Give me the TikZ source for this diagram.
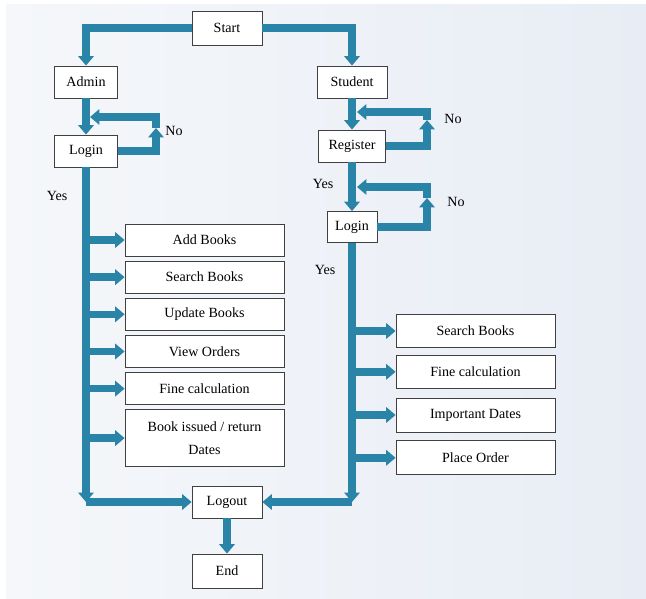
\documentclass[tikz,border=0pt]{standalone}
\usepackage{fontspec}
\setmainfont{Liberation Serif}
\usepackage{tikz}
\usetikzlibrary{arrows.meta,positioning}
\definecolor{flowblue}{RGB}{42,132,168}
\definecolor{bgleft}{RGB}{245,247,250}
\definecolor{bgright}{RGB}{232,237,245}
\tikzset{
    mybox/.style={rectangle, draw=black!75, fill=white, line width=0.7pt, minimum height=0.96cm, inner sep=2pt, font=\fontsize{12}{13}\selectfont, align=center},
    myarrow/.style={-{Triangle[width=13pt,length=8pt]}, draw=flowblue, line width=6.5pt},
    mylabel/.style={font=\fontsize{12}{13}\selectfont}
}

\begin{document}
\begin{tikzpicture}[x=0.03cm, y=-0.03cm, node distance=0.13cm]
\useasboundingbox (0,0) rectangle (646,599);
\fill[white] (0,0) rectangle (646,599);
\shade[left color=bgleft, right color=bgright] (6,5) rectangle (646,599);

\node[mybox, minimum width=2.1cm, minimum height=1.02cm] (start) at (227,28) {Start};
\node[mybox, minimum width=1.9cm] (admin) at (86,82) {Admin};
\node[mybox, minimum width=2.1cm] (student) at (352,82) {Student};
\node[mybox, minimum width=1.9cm] (login1) at (86,151) {Login};
\node[mybox, minimum width=2.0cm] (register) at (352,146) {Register};
\node[mybox, minimum width=1.5cm, minimum height=0.93cm] (login2) at (352,227) {Login};

% admin side
\node[mybox, minimum width=4.77cm] (addbooks) at (204.5,240) {Add Books};
\node[mybox, minimum width=4.77cm, below=of addbooks] (searchbooks) {Search Books};
\node[mybox, minimum width=4.77cm, below=of searchbooks] (updatebooks) {Update Books};
\node[mybox, minimum width=4.77cm, below=of updatebooks] (vieworders) {View Orders};
\node[mybox, minimum width=4.77cm, below=of vieworders] (finecalc) {Fine calculation};
\node[mybox, minimum width=4.77cm, minimum height=1.7cm, font=\fontsize{12}{19}\selectfont, below=of finecalc] (bookissued) {Book issued / return\\Dates};

% student side
\node[mybox, minimum width=4.77cm, minimum height=0.98cm] (ssearch) at (475.5,331) {Search Books};
\node[mybox, minimum width=4.77cm, minimum height=0.98cm, below=0.22cm of ssearch] (sfine) {Fine calculation};
\node[mybox, minimum width=4.77cm, minimum height=1.02cm, below=0.27cm of sfine] (sdates) {Important Dates};
\node[mybox, minimum width=4.77cm, minimum height=1.02cm, below=0.24cm of sdates] (sorder) {Place Order};

\node[mybox, minimum width=2.1cm] (logout) at (227,502) {Logout};
\node[mybox, minimum width=2.1cm, minimum height=1.02cm] (end) at (227,571) {End};

\node[mylabel] (no1) at (174,131) {No};
\node[mylabel] (no2) at (453,119) {No};
\node[mylabel] (no3) at (456,202) {No};
\node[mylabel] (yes1) at (57,196) {Yes};
\node[mylabel] (yes2) at (323,184) {Yes};
\node[mylabel] (yes3) at (325,270) {Yes};

\coordinate (aloop) at (156,128);
\coordinate (aloopend) at (90,117);
\coordinate (rloop) at (427,120);
\coordinate (rloopend) at (357,112);
\coordinate (lloop) at (427,198);
\coordinate (lloopend) at (357,187);
\coordinate (acorner) at (login1.south |- logout.west);
\coordinate (scorner) at (login2.south |- logout.east);

\draw[myarrow] (start.west) -| (admin.north);
\draw[myarrow] (start.east) -| (student.north);
\draw[myarrow] (admin.south) -- (login1.north);
\draw[myarrow] (student.south) -- (register.north);
\draw[myarrow] (register.south) -- (login2.north);

\draw[myarrow] (aloop) |- (aloopend);
\draw[myarrow] (login1.east) -| (aloop);
\draw[myarrow] (rloop) |- (rloopend);
\draw[myarrow] (register.east) -| (rloop);
\draw[myarrow] (lloop) |- (lloopend);
\draw[myarrow] (login2.east) -| (lloop);

\draw[myarrow] (login1.south) -- (acorner);
\draw[myarrow] (acorner) -- (logout.west);
\draw[myarrow] (login2.south) -- (scorner);
\draw[myarrow] (scorner) -- (logout.east);

\foreach \b in {addbooks,searchbooks,updatebooks,vieworders,finecalc,bookissued}
    \draw[myarrow] (login1.south |- \b.west) -- (\b.west);
\foreach \b in {ssearch,sfine,sdates,sorder}
    \draw[myarrow] (login2.south |- \b.west) -- (\b.west);

\draw[myarrow] (logout.south) -- (end.north);
\end{tikzpicture}
\end{document}
